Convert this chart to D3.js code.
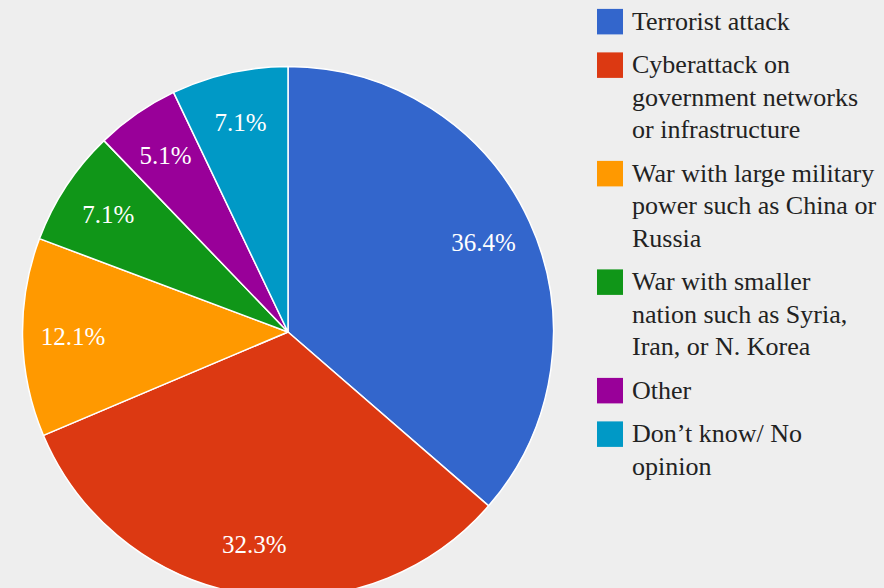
<!DOCTYPE html>
<html>
<head>
<meta charset="utf-8">
<script src="https://cdn.jsdelivr.net/npm/d3@7/dist/d3.min.js"></script>
<style>
  html, body { margin: 0; padding: 0; background: #eeeeee; }
  svg { display: block; }
</style>
</head>
<body>
<svg id="chart" width="884" height="588"></svg>
<script>
const categories = [
  "Terrorist attack",
  "Cyberattack on government networks or infrastructure",
  "War with large military power such as China or Russia",
  "War with smaller nation such as Syria, Iran, or N. Korea",
  "Other",
  "Don't know/ No opinion"
];
const legendLines = [
  ["Terrorist attack"],
  ["Cyberattack on", "government networks", "or infrastructure"],
  ["War with large military", "power such as China or", "Russia"],
  ["War with smaller", "nation such as Syria,", "Iran, or N. Korea"],
  ["Other"],
  ["Don\u2019t know/ No", "opinion"]
];
const values = [36.4, 32.3, 12.1, 7.1, 5.1, 7.1];
const colors = ["#3366cc", "#dc3912", "#ff9900", "#109618", "#990099", "#0099c6"];

const FONT = "'Liberation Serif', 'Times New Roman', Times, 'DejaVu Serif', serif";

const svg = d3.select("#chart");
const W = 884, H = 588;
svg.append("rect").attr("width", W).attr("height", H).attr("fill", "#eeeeee");

const cx = 288, cy = 332, R = 265.5;
const data = categories.map((c, i) => ({ name: c, value: values[i], color: colors[i], lines: legendLines[i] }));

const pie = d3.pie().sort(null).value(d => d.value);
const arcs = pie(data);
const arc = d3.arc().innerRadius(0).outerRadius(R);
const labelArc = d3.arc().innerRadius(R * 0.81).outerRadius(R * 0.81);

const g = svg.append("g").attr("transform", `translate(${cx},${cy})`);
g.selectAll("path.slice").data(arcs).join("path")
  .attr("class", "slice")
  .attr("d", arc)
  .attr("fill", d => d.data.color)
  .attr("stroke", "#ffffff")
  .attr("stroke-width", 1.5)
  .attr("stroke-linejoin", "round");

g.selectAll("text.pct").data(arcs).join("text")
  .attr("class", "pct")
  .attr("transform", d => `translate(${labelArc.centroid(d)})`)
  .attr("text-anchor", "middle")
  .attr("dy", "0.35em")
  .attr("fill", "#ffffff")
  .style("font-family", FONT)
  .attr("font-size", 25)
  .text(d => d.data.value.toFixed(1) + "%");

// Legend
const lineH = 32.5, itemGap = 43.5;
const legend = svg.append("g").attr("class", "legend");
let y = 21.7;
data.forEach((d, i) => {
  const item = legend.append("g");
  item.append("rect")
    .attr("x", 597).attr("y", y - 12.8)
    .attr("width", 26).attr("height", 25.5)
    .attr("fill", d.color);
  const t = item.append("text")
    .style("font-family", FONT)
    .attr("font-size", 26)
    .attr("fill", "#222222");
  d.lines.forEach((ln, j) => {
    t.append("tspan").attr("x", 632).attr("y", y + j * lineH + 8).text(ln);
  });
  y += (d.lines.length - 1) * lineH + itemGap;
});
</script>
</body>
</html>
